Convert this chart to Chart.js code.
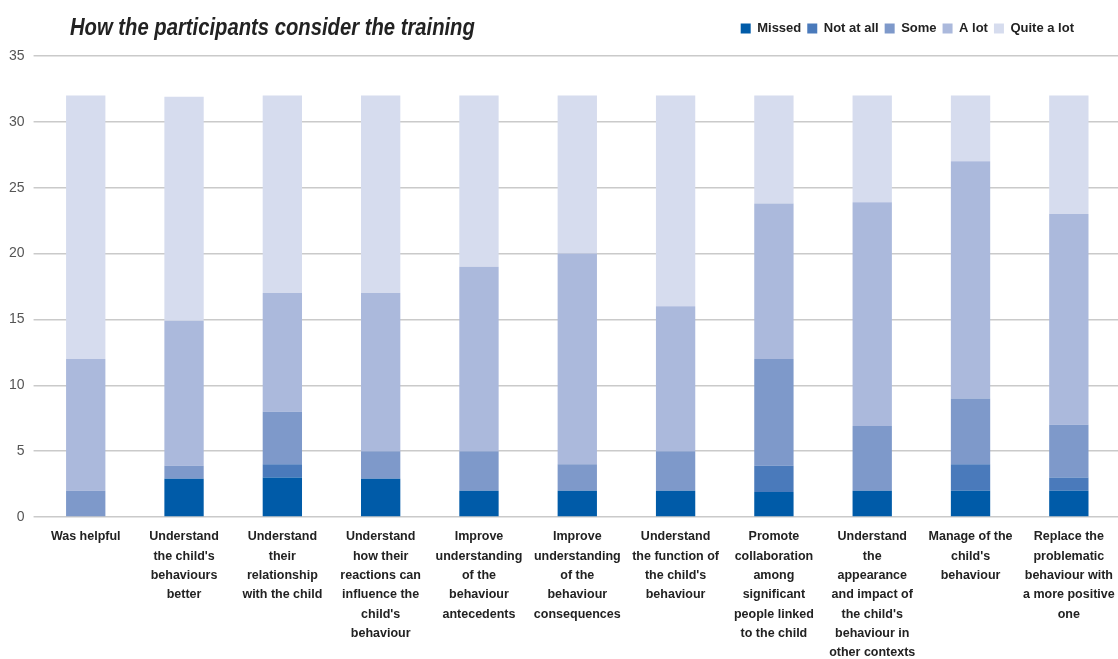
<!DOCTYPE html>
<html>
<head>
<meta charset="utf-8">
<script src="https://cdn.jsdelivr.net/npm/chart.js@4"></script>
<style>
  body { margin: 0; background: #fff; }
  #wrap { position: relative; width: 1118px; height: 659px; }
  #title {
    position: absolute; left: 70px; top: 14px;
    font-family: "Liberation Sans", sans-serif;
    font-weight: bold; font-style: italic; font-size: 23px; color: #222;
    transform: scaleX(0.88); transform-origin: left top; white-space: nowrap;
  }
</style>
</head>
<body>
<div id="wrap">
  <div id="title">How the participants consider the training</div>
  <canvas id="chart" width="1118" height="659"></canvas>
</div>
<script>
var categories = [
  ["Was helpful"],
  ["Understand", "the child's", "behaviours", "better"],
  ["Understand", "their", "relationship", "with the child"],
  ["Understand", "how their", "reactions can", "influence the", "child's", "behaviour"],
  ["Improve", "understanding", "of the", "behaviour", "antecedents"],
  ["Improve", "understanding", "of the", "behaviour", "consequences"],
  ["Understand", "the function of", "the child's", "behaviour"],
  ["Promote", "collaboration", "among", "significant", "people linked", "to the child"],
  ["Understand", "the", "appearance", "and impact of", "the child's", "behaviour in", "other contexts"],
  ["Manage of the", "child's", "behaviour"],
  ["Replace the", "problematic", "behaviour with", "a more positive", "one"]
];

var missed    = [0, 2.9, 3, 2.9, 2, 2, 2, 1.9, 2, 2, 2];
var notAtAll  = [0, 0, 1, 0, 0, 0, 0, 2, 0, 2, 1];
var some      = [2, 1, 4, 2.1, 3, 2, 3, 8.1, 4.9, 5, 4];
var aLot      = [10, 11, 9, 12, 14, 16, 11, 11.8, 17, 18, 16];
var quiteALot = [20, 17, 15, 15, 13, 12, 16, 8.2, 8.1, 5, 9];

var yTicks = [0, 5, 10, 15, 20, 25, 30, 35];

var font = "'Liberation Sans', sans-serif";

function ds(label, data, color) {
  return {
    label: label,
    data: data,
    backgroundColor: color,
    borderWidth: 0,
    barPercentage: 0.4,
    categoryPercentage: 1.0
  };
}

// extra room under the legend, and pull it in from the right edge
var legendTweak = {
  id: "legendTweak",
  beforeInit: function (chart) {
    var lg = chart.legend;
    var fit = lg.fit;
    lg.fit = function () {
      fit.call(lg);
      lg.height += 11;
    };
  },
  afterLayout: function (chart) {
    chart.legend.right -= 38;
    chart.legend.width -= 38;
  }
};

var ctx = document.getElementById("chart").getContext("2d");
var myChart = new Chart(ctx, {
  type: "bar",
  data: {
    labels: categories,
    datasets: [
      ds("Missed", missed, "#005ba8"),
      ds("Not at all", notAtAll, "#4a7abb"),
      ds("Some", some, "#7e99ca"),
      ds("A lot", aLot, "#abb9dc"),
      ds("Quite a lot", quiteALot, "#d6dcee")
    ]
  },
  plugins: [legendTweak],
  options: {
    responsive: false,
    animation: false,
    layout: { padding: { left: 0, right: 0, top: 16, bottom: 0 } },
    plugins: {
      tooltip: { enabled: false },
      legend: {
        position: "top",
        align: "end",
        labels: {
          boxWidth: 10,
          boxHeight: 10,
          padding: 6,
          color: "#222",
          font: { family: font, size: 13, weight: "bold" }
        }
      }
    },
    scales: {
      x: {
        stacked: true,
        grid: { display: false, drawTicks: false },
        border: { display: false },
        afterFit: function (scale) {
          scale.height = 142;
          scale.paddingLeft = 0;
          scale.paddingRight = 0;
        },
        ticks: {
          color: "#222",
          maxRotation: 0,
          autoSkip: false,
          padding: 10,
          font: { family: font, size: 12.5, weight: "bold", lineHeight: 1.55 }
        }
      },
      y: {
        stacked: true,
        min: 0,
        max: 35,
        afterBuildTicks: function (axis) {
          axis.ticks = yTicks.map(function (v) { return { value: v }; });
        },
        border: { display: false },
        grid: { color: "#cacaca", lineWidth: 1.5, drawTicks: true, tickLength: 3 },
        ticks: {
          color: "#555",
          padding: 9,
          font: { family: font, size: 14 }
        }
      }
    }
  }
});
</script>
</body>
</html>
